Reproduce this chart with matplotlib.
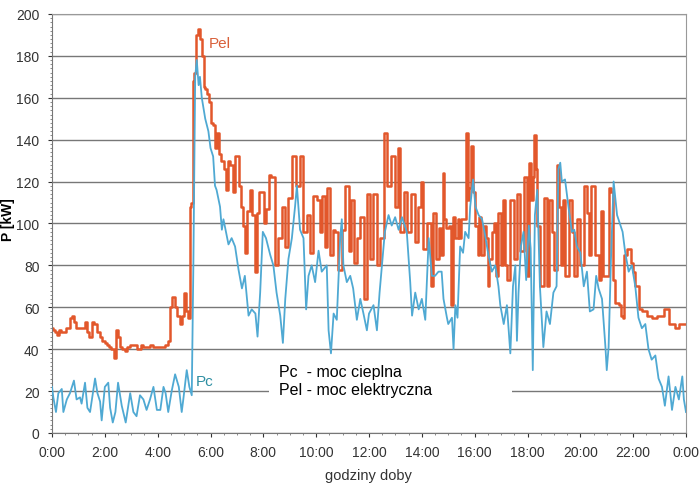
import numpy as np
import matplotlib
matplotlib.use('Agg')
import matplotlib.pyplot as plt
from matplotlib.ticker import MultipleLocator
from matplotlib.patches import Rectangle

plt.rcParams['font.family'] = ['Liberation Sans', 'DejaVu Sans']

# Pel - moc elektryczna (godzina, kW)
godz_pel = [0.0, 0.08, 0.15, 0.22, 0.3, 0.38, 0.48, 0.55, 0.65, 0.72, 0.8, 0.88, 0.95,
            1.1, 1.2, 1.3, 1.38, 1.45, 1.55, 1.65, 1.75, 1.85, 1.95, 2.05, 2.15, 2.2,
            2.3, 2.38, 2.45, 2.52, 2.6, 2.7, 2.8, 2.9, 3.0, 3.15, 3.3, 3.4, 3.5, 3.65,
            3.75, 3.9, 4.0, 4.2, 4.35, 4.45, 4.52, 4.6, 4.7, 4.78, 4.88, 4.95, 5.03,
            5.1, 5.22, 5.26, 5.3, 5.35, 5.42, 5.5, 5.58, 5.65, 5.72, 5.76, 5.85, 5.92,
            6.0, 6.07, 6.15, 6.22, 6.28, 6.33, 6.45, 6.55, 6.62, 6.7, 6.8, 6.88, 6.95,
            7.05, 7.12, 7.2, 7.27, 7.35, 7.45, 7.52, 7.62, 7.72, 7.8, 7.9, 7.97, 8.05,
            8.15, 8.26, 8.35, 8.5, 8.64, 8.76, 8.9, 9.0, 9.2, 9.3, 9.45, 9.58, 9.7,
            9.83, 9.96, 10.08, 10.2, 10.27, 10.4, 10.45, 10.6, 10.64, 10.78, 10.9,
            11.03, 11.16, 11.29, 11.35, 11.48, 11.6, 11.73, 11.86, 11.98, 12.1, 12.23,
            12.35, 12.5, 12.6, 12.74, 12.93, 13.06, 13.1, 13.25, 13.37, 13.5, 13.7,
            13.8, 13.94, 14.0, 14.1, 14.3, 14.38, 14.5, 14.57, 14.7, 14.76, 14.82,
            14.88, 14.95, 15.08, 15.14, 15.2, 15.33, 15.39, 15.45, 15.52, 15.64, 15.7,
            15.77, 15.83, 15.9, 15.95, 16.08, 16.15, 16.2, 16.28, 16.4, 16.46, 16.52,
            16.6, 16.7, 16.78, 16.83, 16.97, 17.03, 17.1, 17.16, 17.28, 17.41, 17.54,
            17.66, 17.79, 17.92, 18.04, 18.1, 18.16, 18.22, 18.3, 18.35, 18.4, 18.55,
            18.67, 18.8, 18.86, 18.98, 19.05, 19.17, 19.24, 19.3, 19.36, 19.5, 19.62,
            19.74, 19.8, 19.93, 20.06, 20.2, 20.3, 20.36, 20.43, 20.5, 20.63, 20.76,
            20.82, 20.88, 21.0, 21.14, 21.2, 21.26, 21.39, 21.52, 21.58, 21.64, 21.7,
            21.83, 21.9, 21.95, 22.0, 22.14, 22.2, 22.27, 22.4, 22.65, 22.77, 23.03,
            23.3, 23.35, 23.4, 23.5, 23.66, 23.8, 24.0]
pel = [50, 49, 48, 47, 49, 48, 48, 50, 50, 55, 56, 53, 50,
       50, 50, 53, 48, 46, 53, 52, 48, 46, 44, 43, 42, 41,
       40, 36, 49, 46, 41, 40, 39, 41, 42, 42, 40, 42, 41, 41,
       42, 41, 41, 41, 42, 44, 60, 65, 60, 56, 52, 56, 67,
       58, 55, 108, 110, 168, 172, 190, 193, 188, 180, 165, 164, 162,
       158, 148, 147, 136, 143, 133, 130, 126, 116, 130, 128, 115, 132,
       132, 118, 108, 99, 86, 106, 116, 104, 77, 105, 115, 115, 100,
       107, 123, 122, 80, 93, 108, 89, 112, 132, 118, 132, 96, 104,
       86, 113, 111, 96, 113, 89, 117, 85, 97, 96, 78,
       97, 118, 87, 111, 81, 93, 103, 64, 114, 83, 114,
       80, 93, 143, 118, 132, 108, 136, 96, 115, 96, 114,
       91, 108, 120, 88, 100, 70, 105, 83, 98, 85, 124,
       102, 98, 99, 61, 103, 93, 102, 93, 102, 102, 143,
       111, 117, 137, 115, 99, 85, 103, 85, 99, 93, 70,
       83, 96, 100, 75, 105, 80, 111, 80, 73, 111, 83,
       114, 87, 122, 75, 129, 111, 122, 142, 126, 99, 70,
       112, 70, 111, 96, 78, 128, 108, 80, 111, 75, 111,
       96, 75, 102, 80, 118, 105, 85, 118, 118, 85, 73,
       106, 75, 75, 117, 115, 73, 62, 61, 56, 55, 85,
       88, 88, 81, 77, 70, 70, 59, 58, 56, 55, 56,
       59, 59, 52, 52, 50, 52, 52]

# Pc - moc cieplna (godzina, kW)
godz_pc = [0.0, 0.05, 0.15, 0.24, 0.37, 0.43, 0.56, 0.68, 0.83, 0.93, 1.06, 1.12, 1.25,
           1.34, 1.44, 1.63, 1.72, 1.82, 1.88, 2.0, 2.13, 2.2, 2.3, 2.4, 2.5, 2.64,
           2.79, 2.96, 3.08, 3.2, 3.33, 3.46, 3.58, 3.71, 3.84, 3.97, 4.1, 4.22, 4.3,
           4.4, 4.53, 4.66, 4.8, 4.91, 4.97, 5.1, 5.2, 5.29, 5.35, 5.42, 5.48, 5.55,
           5.6, 5.67, 5.8, 5.92, 6.0, 6.1, 6.17, 6.23, 6.36, 6.43, 6.49, 6.68, 6.8,
           6.93, 7.06, 7.19, 7.3, 7.44, 7.56, 7.7, 7.78, 7.88, 7.98, 8.1, 8.26, 8.38,
           8.5, 8.64, 8.74, 8.83, 8.95, 9.08, 9.2, 9.27, 9.39, 9.52, 9.62, 9.71, 9.83,
           9.96, 10.09, 10.21, 10.4, 10.47, 10.56, 10.66, 10.78, 10.91, 10.97, 11.03,
           11.16, 11.29, 11.4, 11.54, 11.67, 11.79, 11.92, 12.0, 12.17, 12.3, 12.4,
           12.49, 12.6, 12.74, 12.86, 12.99, 13.12, 13.25, 13.43, 13.56, 13.63, 13.75,
           13.88, 14.0, 14.13, 14.26, 14.38, 14.5, 14.63, 14.75, 14.82, 14.95, 15.0,
           15.14, 15.2, 15.27, 15.35, 15.45, 15.56, 15.64, 15.77, 15.83, 15.94, 16.03,
           16.15, 16.28, 16.4, 16.52, 16.65, 16.78, 16.9, 16.97, 17.1, 17.22, 17.35,
           17.45, 17.54, 17.6, 17.66, 17.75, 17.85, 17.95, 18.05, 18.12, 18.2, 18.28,
           18.37, 18.47, 18.6, 18.72, 18.85, 18.98, 19.1, 19.17, 19.24, 19.3, 19.42,
           19.55, 19.68, 19.77, 19.87, 20.0, 20.13, 20.25, 20.36, 20.5, 20.6, 20.69,
           20.82, 20.95, 21.0, 21.07, 21.16, 21.26, 21.39, 21.52, 21.6, 21.7, 21.83,
           21.95, 22.08, 22.2, 22.33, 22.46, 22.58, 22.7, 22.84, 22.96, 23.09, 23.2,
           23.34, 23.47, 23.6, 23.73, 23.86, 23.92, 24.0]
pc = [22, 17, 10, 19, 21, 10, 16, 19, 25, 16, 17, 14, 24,
      12, 10, 26, 19, 15, 6, 22, 24, 12, 5, 10, 24, 13,
      5, 19, 10, 8, 18, 16, 11, 16, 22, 11, 11, 22, 19,
      10, 20, 28, 22, 10, 16, 30, 22, 18, 79, 170, 178, 166,
      170, 160, 150, 144, 136, 132, 118, 116, 108, 97, 102, 90, 93,
      89, 78, 69, 75, 56, 59, 57, 46, 67, 96, 93, 85, 80,
      67, 56, 43, 64, 83, 93, 108, 118, 97, 93, 59, 75, 80,
      72, 87, 77, 80, 49, 38, 57, 54, 93, 102, 80,
      72, 75, 69, 54, 64, 57, 49, 57, 61, 49, 67,
      80, 96, 104, 99, 103, 97, 103, 96, 72, 56, 67,
      59, 64, 54, 93, 75, 75, 77, 77, 64, 55, 52,
      55, 40, 61, 55, 89, 86, 96, 93, 108, 121, 108,
      104, 102, 94, 85, 77, 80, 70, 61, 52, 61, 38,
      70, 80, 44, 67, 89, 96, 73, 99, 88, 30, 104,
      116, 70, 41, 58, 52, 67, 70, 126, 129, 120, 121,
      108, 96, 97, 89, 86, 70, 77, 58, 59, 75, 69,
      64, 41, 30, 41, 83, 120, 104, 99, 96, 86, 77,
      80, 70, 55, 50, 52, 40, 35, 37, 26, 22, 13,
      27, 11, 22, 16, 27, 16, 10]

godziny_ticks = [0, 2, 4, 6, 8, 10, 12, 14, 16, 18, 20, 22, 24]
godziny_labels = ['0:00', '2:00', '4:00', '6:00', '8:00', '10:00', '12:00',
                  '14:00', '16:00', '18:00', '20:00', '22:00', '0:00']

fig = plt.figure(figsize=(7, 4.85), dpi=100)
ax = fig.add_axes([0.0743, 0.1052, 0.9057, 0.864])
ax.set_axisbelow(True)

ax.plot(godz_pc, pc, color='#4fa9d3', lw=1.3, zorder=3)
ax.plot(godz_pel, pel, color='#e2572b', lw=1.8, zorder=2, drawstyle='steps-mid')

# biale tlo pod opisem (przerywa linie siatki na 20)
ax.add_patch(Rectangle((8.2, 13), 9.2, 22, facecolor='white', edgecolor='none', zorder=1))

ax.set_xlim(0, 24)
ax.set_ylim(0, 200)
ax.set_yticks(range(0, 201, 20))
ax.set_xticks(godziny_ticks)
ax.set_xticklabels(godziny_labels)
ax.xaxis.set_minor_locator(MultipleLocator(0.5))
ax.yaxis.set_minor_locator(MultipleLocator(2))
ax.tick_params(axis='both', labelsize=10, colors='#333333', length=3, pad=6)
ax.tick_params(which='minor', length=1.5, colors='#777777')
ax.grid(axis='y', color='#777777', lw=1.0)

for s in ['top', 'right']:
    ax.spines[s].set_color('#999999')
for s in ['left', 'bottom']:
    ax.spines[s].set_color('#777777')

fig.text(8 / 700, 1 - 220 / 485, 'P [kW]', fontsize=10, fontweight='bold',
         rotation=90, ha='center', va='center')
fig.text(368 / 700, 1 - 476 / 485, 'godziny doby', fontsize=10.5, color='#333333',
         ha='center', va='center')

ax.text(5.95, 186, 'Pel', color='#d9603a', fontsize=11, va='center')
ax.text(5.45, 25, 'Pc', color='#2f8fa3', fontsize=11, va='center')
ax.text(8.6, 25, 'Pc  - moc cieplna\nPel - moc elektryczna', fontsize=11.5,
        color='black', linespacing=1.25, va='center', zorder=4)

fig.savefig('out.png', dpi=100)
